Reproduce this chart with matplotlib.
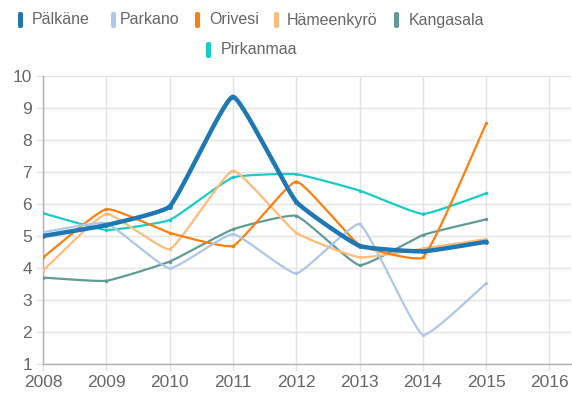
import matplotlib.pyplot as plt
import matplotlib.patches as patches
import numpy as np

plt.rcParams['font.family'] = ['Liberation Sans', 'DejaVu Sans']

vuodet = [2008, 2009, 2010, 2011, 2012, 2013, 2014, 2015]
kunnat = ['Pälkäne', 'Parkano', 'Orivesi', 'Hämeenkyrö', 'Kangasala', 'Pirkanmaa']
palkane = [5.0, 5.34, 5.92, 9.35, 6.07, 4.69, 4.52, 4.82]
parkano = [5.12, 5.4, 3.99, 5.06, 3.83, 5.37, 1.91, 3.52]
orivesi = [4.33, 5.84, 5.1, 4.69, 6.7, 4.72, 4.33, 8.52]
hameenkyro = [3.92, 5.69, 4.59, 7.04, 5.1, 4.33, 4.61, 4.9]
kangasala = [3.7, 3.6, 4.2, 5.21, 5.63, 4.09, 5.03, 5.52]
pirkanmaa = [5.71, 5.19, 5.5, 6.83, 6.93, 6.42, 5.69, 6.33]
sarjat = [palkane, parkano, orivesi, hameenkyro, kangasala, pirkanmaa]
varit = ['#1f77b4', '#aec7e8', '#ff7f0e', '#ffbb78', '#5f9c96', '#17cbc6']
leveydet = [3.2, 1.6, 1.6, 1.6, 1.6, 1.6]
pisteet = [3.5, 2.5, 2.5, 2.5, 2.5, 2.5]

fig = plt.figure(figsize=(5.72, 3.97), dpi=100)
ax = fig.add_axes([43 / 572, 1 - 364 / 397, 528 / 572, 288 / 397])
ax.set_xlim(2008, 2016.34)
ax.set_ylim(1, 10)


def kayra(x, y, t=0.13, n=30):
    # bezier-kaari pikselimittakaavassa kuten Chart.js
    sx, sy = 63.3, 32.0
    px = np.array(x, float) * sx
    py = np.array(y, float) * sy
    m = len(px)
    c1, c2 = [], []
    for i in range(m):
        a = max(i - 1, 0)
        b = min(i + 1, m - 1)
        d01 = np.hypot(px[i] - px[a], py[i] - py[a])
        d12 = np.hypot(px[b] - px[i], py[b] - py[i])
        tot = d01 + d12
        s01 = d01 / tot if tot else 0
        s12 = d12 / tot if tot else 0
        dx, dy = px[b] - px[a], py[b] - py[a]
        c1.append((px[i] - t * s01 * dx, py[i] - t * s01 * dy))
        c2.append((px[i] + t * s12 * dx, py[i] + t * s12 * dy))
    xs, ys = [], []
    u = np.linspace(0, 1, n)
    for i in range(m - 1):
        p0 = (px[i], py[i]); p1 = c2[i]; p2 = c1[i + 1]; p3 = (px[i + 1], py[i + 1])
        bx = (1 - u) ** 3 * p0[0] + 3 * (1 - u) ** 2 * u * p1[0] + 3 * (1 - u) * u ** 2 * p2[0] + u ** 3 * p3[0]
        by = (1 - u) ** 3 * p0[1] + 3 * (1 - u) ** 2 * u * p1[1] + 3 * (1 - u) * u ** 2 * p2[1] + u ** 3 * p3[1]
        xs.extend(bx); ys.extend(by)
    return np.array(xs) / sx, np.array(ys) / sy


for k in range(len(sarjat)):
    z = 10 - k
    kx, ky = kayra(vuodet, sarjat[k])
    ax.plot(kx, ky, color=varit[k], lw=leveydet[k], zorder=z, solid_capstyle='round')
    ax.plot(vuodet, sarjat[k], 'o', color=varit[k], ms=pisteet[k], mew=0, zorder=z)

ax.set_xticks(range(2008, 2017))
ax.set_yticks(range(1, 11))
ax.grid(color='#e4e4e4', lw=1)
ax.set_axisbelow(True)
for s in ['top', 'right']:
    ax.spines[s].set_visible(False)
for s in ['left', 'bottom']:
    ax.spines[s].set_color('#b0b0b0')
    ax.spines[s].set_linewidth(1)
ax.tick_params(colors='#e4e4e4', labelcolor='#666666', labelsize=12.5, length=5, width=1, pad=3)

# selite kahdella rivillä
selite = [(17, 32, 20), (110, 120, 20), (194, 209, 20), (273, 287, 20), (393, 409, 20), (205, 221, 50)]
for k, (bx, tx, yy) in enumerate(selite):
    fig.patches.append(patches.FancyBboxPatch(
        ((bx + 1) / 572, 1 - (yy + 8) / 397), 5 / 572, 16 / 397,
        boxstyle='round,pad=0,rounding_size=0.004', transform=fig.transFigure,
        fc=varit[k], ec='none'))
    fig.text(tx / 572, 1 - yy / 397, kunnat[k], color='#666666', fontsize=11.5,
             ha='left', va='center')

fig.savefig('out.png', dpi=100)
